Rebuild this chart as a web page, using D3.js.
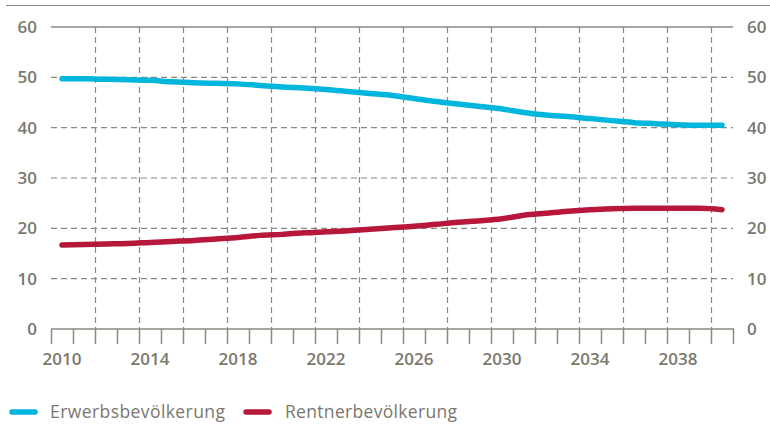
<!DOCTYPE html>
<html><head><meta charset="utf-8">
<script src="https://cdn.jsdelivr.net/npm/d3@7"></script>
<style>body{margin:0;background:#fff}svg{display:block;font-family:"Open Sans",sans-serif}</style>
</head><body><svg id="c" width="770" height="427"></svg>
<script>
const years = d3.range(2010, 2041);
const erwerbs = [49.7,49.7,49.6,49.5,49.4,49.1,48.9,48.8,48.7,48.4,48.1,47.9,47.6,47.2,46.8,46.4,45.8,45.2,44.7,44.2,43.7,43.0,42.5,42.2,41.8,41.4,41.0,40.8,40.6,40.5,40.5];
const rentner = [16.7,16.8,16.9,17.0,17.2,17.4,17.6,17.9,18.2,18.6,18.8,19.1,19.3,19.5,19.8,20.1,20.4,20.8,21.2,21.5,21.9,22.6,23.0,23.4,23.7,23.9,24.0,24.0,24.0,24.0,23.7];
const yTicks = [0,10,20,30,40,50,60];
const xLabels = [2010,2014,2018,2022,2026,2030,2034,2038];
const seriesNames = ["Erwerbsbevölkerung","Rentnerbevölkerung"];
const colors = ["#00b6dd","#b7173b"];

const svg = d3.select("#c");
const L=51, R=733, T=27, B=329;
const grey="#8b887f", txt="#7a776e";
const x = d3.scaleBand().domain(years).range([L,R]);
const y = d3.scaleLinear().domain([0,60]).range([B,T]);

svg.append("line").attr("x1",6).attr("x2",770).attr("y1",5.5).attr("y2",5.5).attr("stroke",grey).attr("stroke-width",1);

yTicks.forEach(v=>{
  if(v===0) return;
  svg.append("line").attr("x1",L).attr("x2",R).attr("y1",y(v)).attr("y2",y(v))
    .attr("stroke",grey).attr("stroke-width",v===60?1.5:1.2)
    .attr("stroke-dasharray",v===60?null:"6,4");
});
years.forEach((yr,i)=>{
  if(i>0 && i%2===0){
    const xx = Math.round(x(yr))+0.5;
    svg.append("line").attr("x1",xx).attr("x2",xx).attr("y1",T).attr("y2",B)
      .attr("stroke",grey).attr("stroke-width",1.2).attr("stroke-dasharray","6,4");
  }
});
const bounds = years.map(yr=>x(yr)).concat([R]);
bounds.forEach(b=>{
  const xx = Math.round(b)+0.5;
  svg.append("line").attr("x1",xx).attr("x2",xx).attr("y1",B).attr("y2",B+15).attr("stroke",grey).attr("stroke-width",1.5);
});
svg.append("line").attr("x1",L).attr("x2",R+1).attr("y1",B).attr("y2",B).attr("stroke",grey).attr("stroke-width",1.5);

xLabels.forEach(yr=>{
  svg.append("text").attr("x",x(yr)+x.bandwidth()/2).attr("y",359).attr("dy","0.35em")
    .attr("text-anchor","middle").attr("fill",txt).attr("font-size",17).attr("font-weight",600).text(yr);
});
yTicks.forEach(v=>{
  svg.append("text").attr("x",37).attr("y",y(v)).attr("dy","0.35em").attr("text-anchor","end")
    .attr("fill",txt).attr("font-size",17).attr("font-weight",600).text(v);
  svg.append("text").attr("x",747).attr("y",y(v)).attr("dy","0.35em").attr("text-anchor","start")
    .attr("fill",txt).attr("font-size",17).attr("font-weight",600).text(v);
});

const line = d3.line().x((d,i)=>x(years[i])+x.bandwidth()/2).y(d=>y(d)).curve(d3.curveMonotoneX);
[erwerbs,rentner].forEach((s,k)=>{
  svg.append("path").attr("d",line(s)).attr("fill","none").attr("stroke",colors[k])
    .attr("stroke-width",5.5).attr("stroke-linecap","round").attr("stroke-linejoin","round");
});

const lg = [{x1:12,x2:35,tx:50,w:175},{x1:246,x2:269,tx:285,w:172}];
lg.forEach((p,k)=>{
  svg.append("line").attr("x1",p.x1).attr("x2",p.x2).attr("y1",412).attr("y2",412)
    .attr("stroke",colors[k]).attr("stroke-width",5.5).attr("stroke-linecap","round");
  svg.append("text").attr("x",p.tx).attr("y",412).attr("dy","0.35em").attr("fill",txt)
    .attr("font-size",17.5).attr("textLength",p.w).attr("lengthAdjust","spacing").text(seriesNames[k]);
});
</script></body></html>
